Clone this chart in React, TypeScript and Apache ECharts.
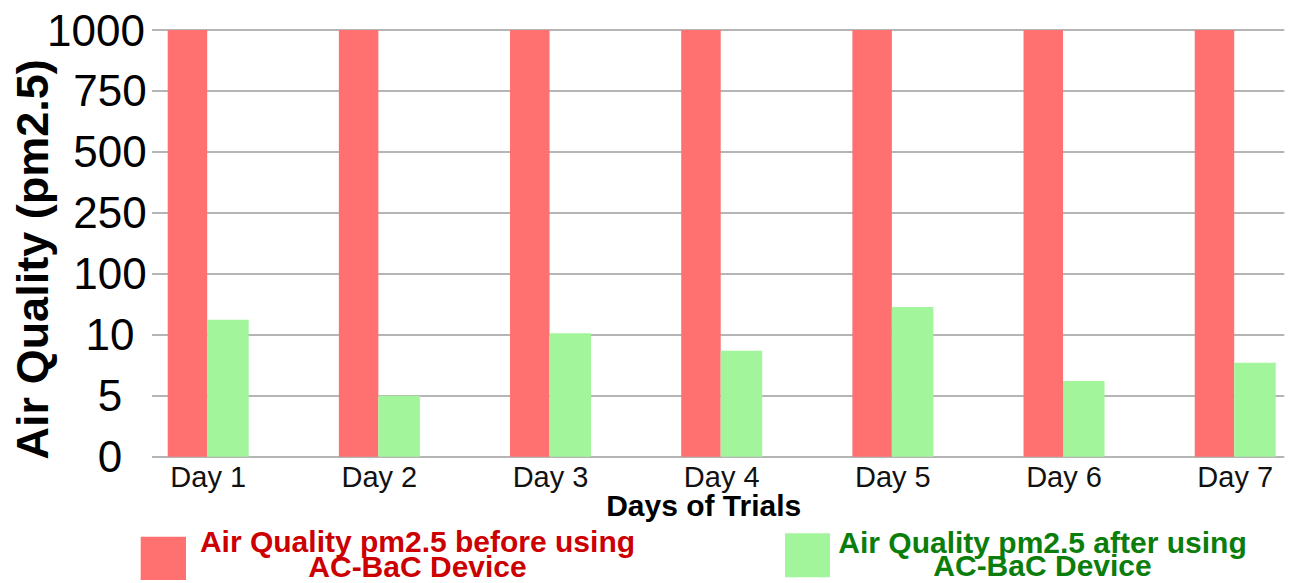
import { useEffect, useRef } from "react";
import * as echarts from "echarts";

const DAYS = ["Day 1", "Day 2", "Day 3", "Day 4", "Day 5", "Day 6", "Day 7"];
const Y_TICKS = [0, 5, 10, 100, 250, 500, 750, 1000];
const BEFORE = [1000, 1000, 1000, 1000, 1000, 1000, 1000];
const AFTER = [32.2, 5, 12.2, 8.7, 51, 6.2, 7.7];
const BEFORE_LINES = ["Air Quality pm2.5 before using", "AC-BaC Device"];
const AFTER_LINES = ["Air Quality pm2.5 after using", "AC-BaC Device"];
const X_TITLE = "Days of Trials";
const Y_TITLE = "Air Quality (pm2.5)";

const FONT = '"Liberation Sans", Arial, Helvetica, sans-serif';
const RED = "#ff7171";
const GREEN = "#a3f59c";
const RED_TEXT = "#cc0000";
const GREEN_TEXT = "#0b7d0b";

// piecewise-linear position on the evenly spaced (non-linear) tick scale
function toPos(v: number): number {
  for (let i = 0; i < Y_TICKS.length - 1; i++) {
    const a = Y_TICKS[i];
    const b = Y_TICKS[i + 1];
    if (v <= b) return i + (v - a) / (b - a);
  }
  return Y_TICKS.length - 1;
}

export default function App() {
  const ref = useRef<HTMLDivElement>(null);

  useEffect(() => {
    if (!ref.current) return;
    const chart = echarts.init(ref.current, null, { renderer: "svg" });
    const top = 30;
    const bottom = 583 - 456.7;
    chart.setOption({
      animation: false,
      backgroundColor: "#ffffff",
      grid: [
        { left: 152, right: 7.7, top, bottom, outerBoundsMode: "none" },
        { left: 208.2, right: 1292 - 1235.2, top, bottom, outerBoundsMode: "none" },
      ],
      xAxis: [
        { gridIndex: 0, type: "value", min: 0, max: 1, show: false },
        {
          gridIndex: 1,
          type: "category",
          boundaryGap: false,
          data: DAYS,
          axisLine: { show: false },
          axisTick: { show: false },
          splitLine: { show: false },
          axisLabel: {
            fontFamily: FONT,
            fontSize: 29,
            lineHeight: 27,
            color: "#111111",
            margin: 7,
          },
          name: X_TITLE,
          nameLocation: "middle",
          nameGap: 34,
          nameMoveOverlap: false,
          nameTextStyle: {
            fontFamily: FONT,
            fontSize: 30,
            fontWeight: "bold",
            color: "#000000",
            padding: [0, 36, 0, 0],
          },
        },
      ],
      yAxis: [
        {
          gridIndex: 0,
          type: "value",
          min: 0,
          max: Y_TICKS.length - 1,
          interval: 1,
          axisLine: { show: false },
          axisTick: { show: false },
          splitLine: { show: true, lineStyle: { color: "#b5b5b5", width: 2 } },
          axisLabel: {
            fontFamily: FONT,
            fontSize: 44,
            color: "#000000",
            align: "center",
            margin: 42,
            formatter: (v: number) => {
              const idx = Math.round(v);
              const lbl = String(Y_TICKS[idx]);
              return idx === Y_TICKS.length - 1 ? `{w|${lbl}}` : lbl;
            },
            rich: {
              w: {
                fontFamily: FONT,
                fontSize: 44,
                color: "#000000",
                padding: [0, 28, 0, 0],
              },
            },
          },
          name: Y_TITLE,
          nameLocation: "middle",
          nameRotate: 90,
          nameGap: 97,
          nameMoveOverlap: false,
          nameTextStyle: {
            fontFamily: FONT,
            fontSize: 45,
            fontWeight: "bold",
            color: "#000000",
            padding: [0, 32, 0, 0],
          },
        },
        { gridIndex: 1, type: "value", min: 0, max: Y_TICKS.length - 1, show: false },
      ],
      series: [
        {
          name: BEFORE_LINES.join(" "),
          type: "bar",
          xAxisIndex: 1,
          yAxisIndex: 1,
          data: BEFORE.map(toPos),
          barWidth: 39.5,
          barGap: "0%",
          clip: false,
          itemStyle: { color: RED },
        },
        {
          name: AFTER_LINES.join(" "),
          type: "bar",
          xAxisIndex: 1,
          yAxisIndex: 1,
          data: AFTER.map(toPos),
          barWidth: 41.5,
          barGap: "0%",
          clip: false,
          itemStyle: { color: GREEN },
        },
      ],
      graphic: [
        {
          type: "rect",
          shape: { x: 140.7, y: 536.7, width: 45.3, height: 43.3 },
          style: { fill: RED },
        },
        {
          type: "text",
          x: 417.5,
          y: 528.8,
          style: {
            text: BEFORE_LINES.join("\n"),
            font: `bold 30px ${FONT}`,
            fill: RED_TEXT,
            align: "center",
            verticalAlign: "top",
            lineHeight: 25,
          },
        },
        {
          type: "rect",
          shape: { x: 785, y: 533.3, width: 45, height: 44 },
          style: { fill: GREEN },
        },
        {
          type: "text",
          x: 1042.5,
          y: 530.8,
          style: {
            text: AFTER_LINES.join("\n"),
            font: `bold 30px ${FONT}`,
            fill: GREEN_TEXT,
            align: "center",
            verticalAlign: "top",
            lineHeight: 23,
          },
        },
      ],
    });
    return () => chart.dispose();
  }, []);

  return (
    <div
      ref={ref}
      style={{
        position: "fixed",
        left: 0,
        top: 0,
        width: 1292,
        height: 583,
        background: "#ffffff",
      }}
    />
  );
}
